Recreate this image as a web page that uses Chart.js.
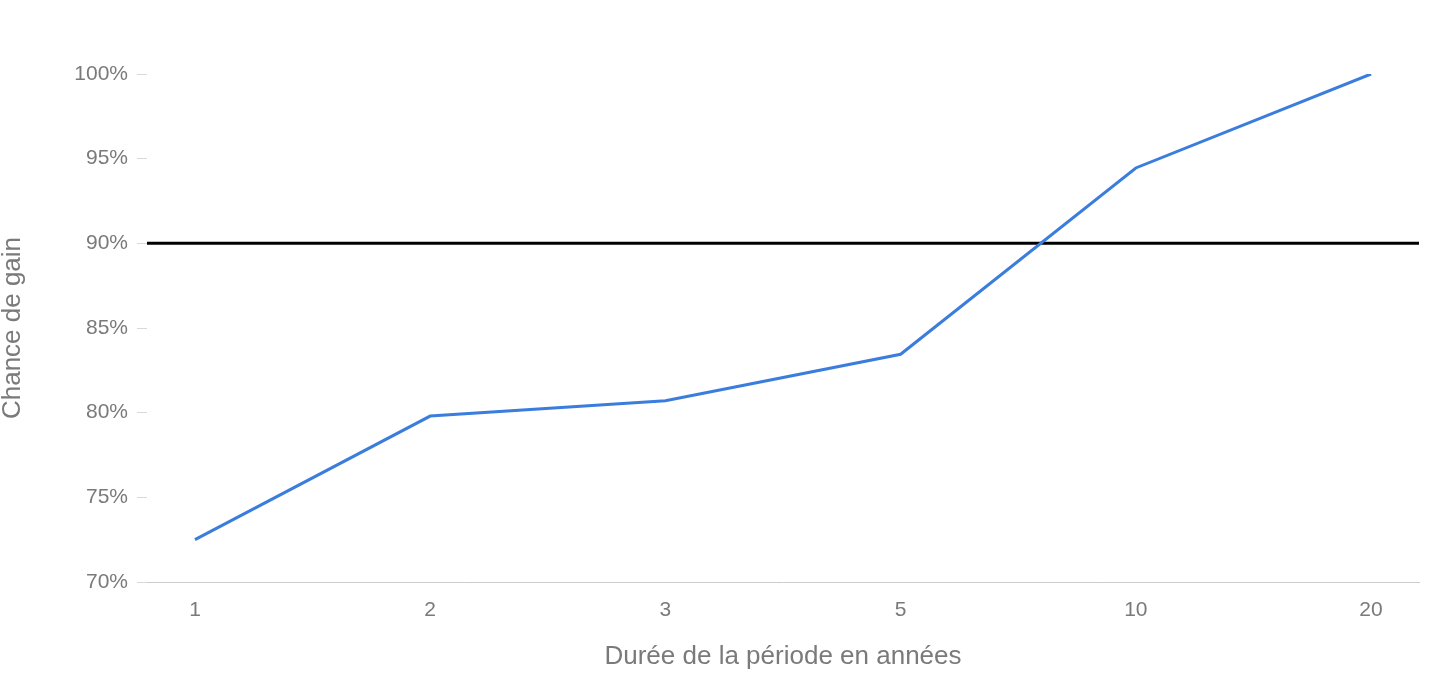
<!DOCTYPE html>
<html><head><meta charset="utf-8">
<script src="https://cdn.jsdelivr.net/npm/chart.js@4"></script>
<style>html,body{margin:0;padding:0;background:#fff}#wrap{width:1456px;height:695px}</style>
</head><body><div id="wrap"><canvas id="c" width="1456" height="695"></canvas></div>
<script>
const categories = ['1', '2', '3', '5', '10', '20'];
const chanceDeGain = [72.5, 79.8, 80.7, 83.45, 94.45, 100];
const yTicks = [70, 75, 80, 85, 90, 95, 100];
const threshold = 90;
const xTitle = 'Durée de la période en années';
const yTitle = 'Chance de gain';

const FONT = "'Liberation Sans', Arial, sans-serif";
const GREY = '#7a7a7a';

const thresholdPlugin = {
  id: 'threshold',
  beforeDatasetsDraw(chart) {
    const {ctx, chartArea, scales} = chart;
    const y = scales.y.getPixelForValue(threshold);
    ctx.save();
    ctx.strokeStyle = '#000';
    ctx.lineWidth = 3;
    ctx.beginPath();
    ctx.moveTo(chartArea.left, y);
    ctx.lineTo(chartArea.right, y);
    ctx.stroke();
    ctx.restore();
  }
};

new Chart(document.getElementById('c'), {
  type: 'line',
  data: {
    datasets: [{
      data: chanceDeGain.map((v, i) => ({x: i, y: v})),
      borderColor: '#3b7ddd',
      borderWidth: 3,
      pointRadius: 0,
      tension: 0,
      fill: false
    }]
  },
  options: {
    responsive: false,
    animation: false,
    layout: {padding: {top: 74, right: 37, left: 0, bottom: 0}},
    plugins: {legend: {display: false}, tooltip: {enabled: false}},
    scales: {
      x: {
        type: 'linear',
        min: -0.204,
        max: categories.length - 1 + 0.204,
        afterBuildTicks(s) { s.ticks = categories.map((c, i) => ({value: i})); },
        afterFit(s) { s.height = 113; },
        ticks: {
          callback: (v) => categories[v] ?? '',
          color: GREY,
          font: {family: FONT, size: 21},
          padding: 16,
          maxRotation: 0,
          autoSkip: false
        },
        grid: {display: false, drawTicks: false},
        border: {display: true, color: '#cccccc', width: 1},
        title: {
          display: true,
          text: xTitle,
          color: GREY,
          font: {family: FONT, size: 26},
          padding: {top: 0, bottom: 23}
        }
      },
      y: {
        min: 70,
        max: 100,
        afterBuildTicks(s) { s.ticks = yTicks.map(v => ({value: v})); },
        afterFit(s) { s.width = 147; },
        ticks: {
          callback: (v) => v + '%',
          color: GREY,
          font: {family: FONT, size: 21},
          padding: 9
        },
        grid: {drawOnChartArea: false, drawTicks: true, tickLength: 10, color: '#d9d9d9'},
        border: {display: false},
        title: {
          display: true,
          text: yTitle,
          color: GREY,
          font: {family: FONT, size: 26, lineHeight: 1},
          padding: {top: 0, bottom: 0}
        }
      }
    }
  },
  plugins: [thresholdPlugin]
});
</script>
</body></html>
